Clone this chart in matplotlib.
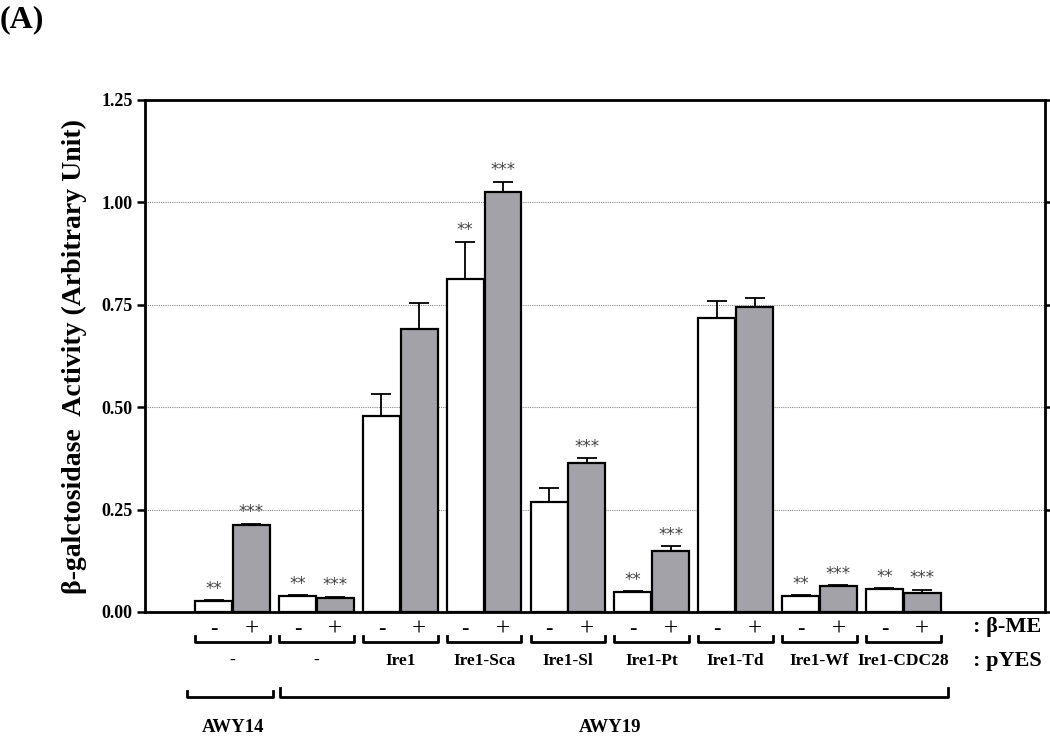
import matplotlib
matplotlib.use("Agg")
import matplotlib.pyplot as plt
import numpy as np

# data
pyes = ["-", "-", "Ire1", "Ire1-Sca", "Ire1-Sl", "Ire1-Pt", "Ire1-Td", "Ire1-Wf", "Ire1-CDC28"]
minus_me = [0.027, 0.039, 0.479, 0.813, 0.268, 0.049, 0.718, 0.039, 0.056]
minus_err = [0.002, 0.002, 0.054, 0.091, 0.034, 0.002, 0.041, 0.002, 0.002]
plus_me = [0.212, 0.035, 0.692, 1.025, 0.364, 0.149, 0.745, 0.063, 0.046]
plus_err = [0.003, 0.002, 0.063, 0.025, 0.011, 0.012, 0.022, 0.002, 0.008]
minus_star = ["**", "**", "", "**", "", "**", "", "**", "**"]
plus_star = ["***", "***", "", "***", "***", "***", "", "***", "***"]
strains = ["AWY14", "AWY19"]
strain_span = [(0, 0), (1, 8)]

serif = ["Liberation Serif", "DejaVu Serif"]
plt.rcParams["font.family"] = serif

fig = plt.figure(figsize=(10.5, 7.39), dpi=100)
ax = fig.add_axes([145 / 1050, 1 - 612 / 739, 900 / 1050, 512 / 739])

x = np.arange(len(pyes))
w = 0.44
off = 0.225
ax.bar(x - off, minus_me, w, color="white", edgecolor="black", linewidth=1.6, zorder=3)
ax.bar(x + off, plus_me, w, color="#a3a2a8", edgecolor="black", linewidth=1.6, zorder=3)
ax.errorbar(x - off, minus_me, yerr=[np.zeros(len(x)), minus_err], fmt="none",
            ecolor="black", elinewidth=1.3, capsize=7, capthick=1.3, zorder=4)
ax.errorbar(x + off, plus_me, yerr=[np.zeros(len(x)), plus_err], fmt="none",
            ecolor="black", elinewidth=1.3, capsize=7, capthick=1.3, zorder=4)

for i in x:
    if minus_star[i]:
        ax.text(i - off, minus_me[i] + minus_err[i] + 0.028, minus_star[i], ha="center",
                va="center", fontsize=12, color="#444444", family="DejaVu Sans")
    if plus_star[i]:
        ax.text(i + off, plus_me[i] + plus_err[i] + 0.028, plus_star[i], ha="center",
                va="center", fontsize=12, color="#444444", family="DejaVu Sans")

ax.set_xlim(-1.045, 9.69)
ax.set_ylim(0, 1.25)
ax.set_yticks([0, 0.25, 0.5, 0.75, 1.0, 1.25])
ax.set_yticklabels(["0.00", "0.25", "0.50", "0.75", "1.00", "1.25"], fontweight="bold", fontsize=13)
ax.set_xticks([])
ax.tick_params(axis="y", direction="out", length=6, width=1.8, right=True, pad=3)
for s in ax.spines.values():
    s.set_linewidth(2.0)
for g in [0.25, 0.5, 0.75, 1.0]:
    ax.axhline(g, color="#888888", linestyle=(0, (1, 1)), linewidth=0.8, zorder=1)

ax.set_ylabel("β-galctosidase  Activity (Arbitrary Unit)", fontsize=20, fontweight="bold", labelpad=10)


def ay(ypix):
    # figure pixel row -> axes fraction
    return (612 - ypix) / 512


tr = ax.get_xaxis_transform()
for i in x:
    ax.text(i - off, ay(630), "-", ha="center", va="center", fontsize=16, transform=tr, clip_on=False)
    ax.text(i + off, ay(630), "+", ha="center", va="center", fontsize=18, transform=tr, clip_on=False)
    x0, x1 = i - off - w / 2, i + off + w / 2
    ax.plot([x0, x0, x1, x1], [ay(636), ay(642), ay(642), ay(636)], color="black",
            linewidth=2.0, transform=tr, clip_on=False)
    ax.text(i, ay(661), pyes[i], ha="center", va="center", fontsize=12.5, fontweight="bold",
            transform=tr, clip_on=False)

pads = [(0.10, 0.04), (-0.01, 0.09)]
ticks = [691, 688]
for name, (a, b), (pl, pr), tk in zip(strains, strain_span, pads, ticks):
    x0, x1 = a - off - w / 2 - pl, b + off + w / 2 + pr
    ax.plot([x0, x0, x1, x1], [ay(tk), ay(697), ay(697), ay(tk)], color="black",
            linewidth=2.0, transform=tr, clip_on=False)
    ax.text((a + b) / 2, ay(728), name, ha="center", va="center", fontsize=13.5,
            fontweight="bold", transform=tr, clip_on=False)

ax.text(8.83, ay(627), ": β-ME", ha="left", va="center", fontsize=16, fontweight="bold",
        transform=tr, clip_on=False)
ax.text(8.83, ay(661), ": pYES", ha="left", va="center", fontsize=16, fontweight="bold",
        transform=tr, clip_on=False)

fig.text(0, 1 - 20 / 739, "(A)", ha="left", va="center", fontsize=23, fontweight="bold")

fig.savefig("out.png", dpi=100)
